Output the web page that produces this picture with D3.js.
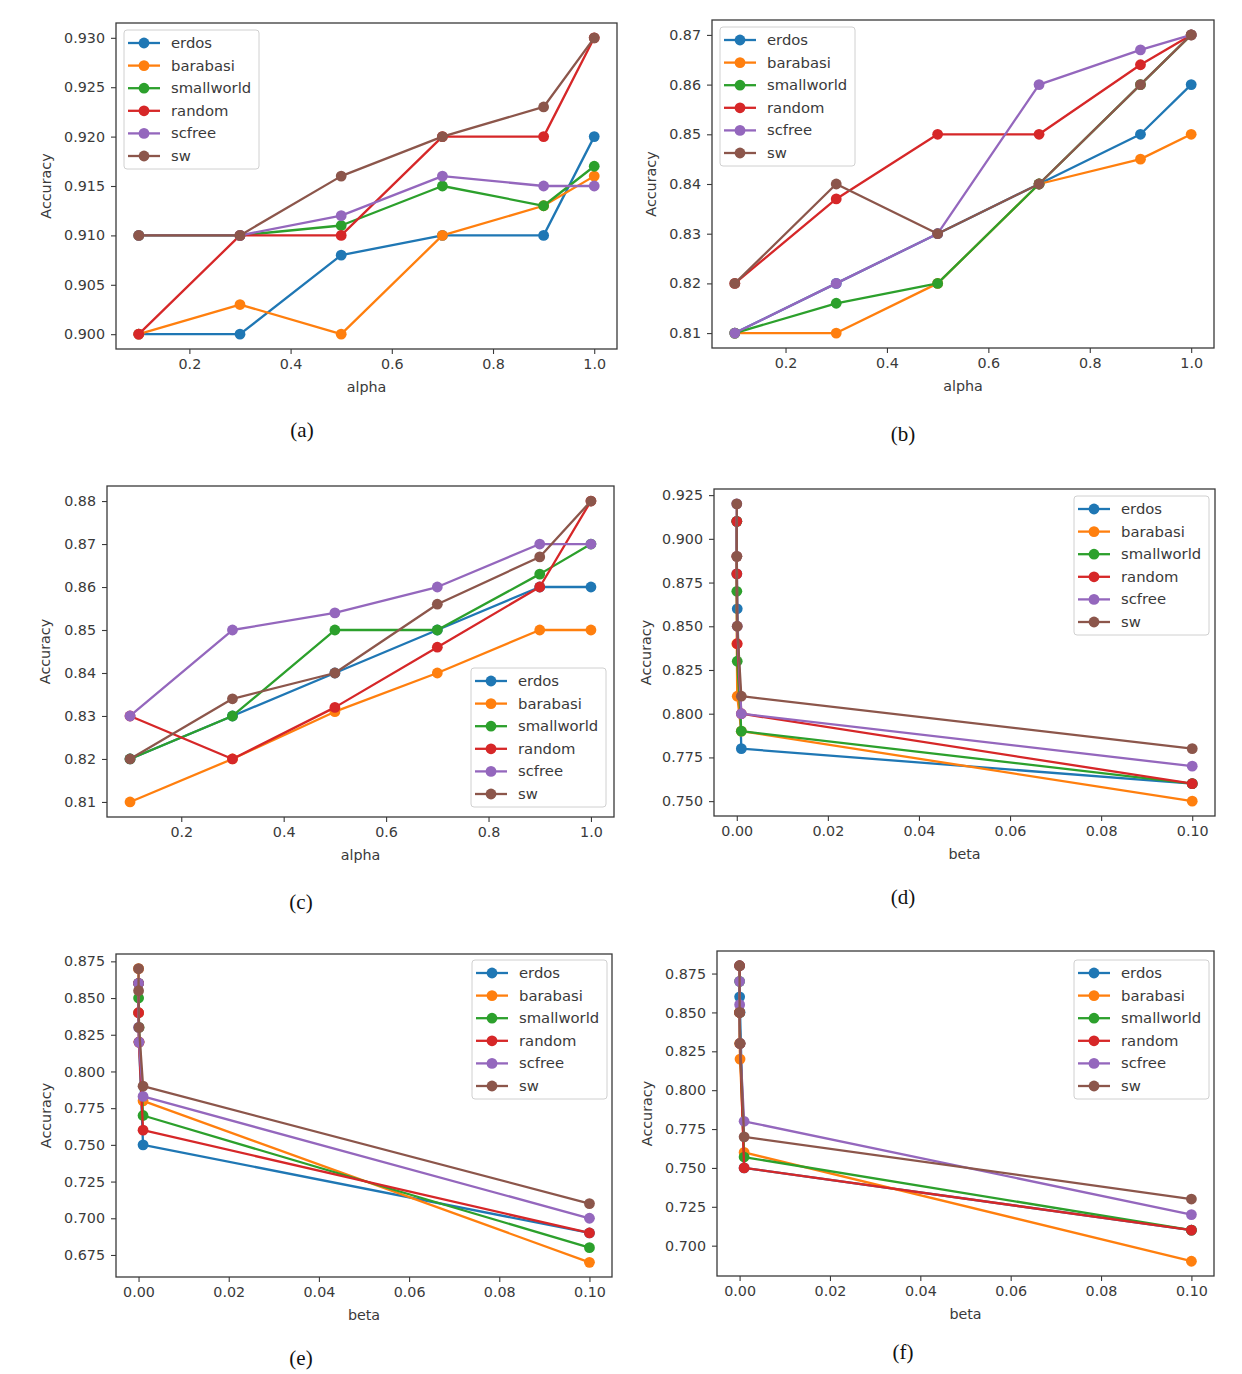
<!DOCTYPE html>
<html><head><meta charset="utf-8">
<script src="https://cdn.jsdelivr.net/npm/d3@7"></script>
<style>body{margin:0;background:#fff} svg text{font-family:"DejaVu Sans",sans-serif}</style>
</head><body><svg id="c" width="1242" height="1374"></svg>
<script>
// ---------- DATA ----------
const seriesNames = ["erdos","barabasi","smallworld","random","scfree","sw"];
const seriesColors = ["#1f77b4","#ff7f0e","#2ca02c","#d62728","#9467bd","#8c564b"];
const alphaValues = [0.1, 0.3, 0.5, 0.7, 0.9, 1.0];
const betaValues = [0, 0.00001, 0.0001, 0.001, 0.1];

// rows: erdos, barabasi, smallworld, random, scfree, sw
const accA = [
  [0.900, 0.900, 0.908, 0.910, 0.910, 0.920],
  [0.900, 0.903, 0.900, 0.910, 0.913, 0.916],
  [0.910, 0.910, 0.911, 0.915, 0.913, 0.917],
  [0.900, 0.910, 0.910, 0.920, 0.920, 0.930],
  [0.910, 0.910, 0.912, 0.916, 0.915, 0.915],
  [0.910, 0.910, 0.916, 0.920, 0.923, 0.930]
];
const accB = [
  [0.810, 0.820, 0.830, 0.840, 0.850, 0.860],
  [0.810, 0.810, 0.820, 0.840, 0.845, 0.850],
  [0.810, 0.816, 0.820, 0.840, 0.860, 0.870],
  [0.820, 0.837, 0.850, 0.850, 0.864, 0.870],
  [0.810, 0.820, 0.830, 0.860, 0.867, 0.870],
  [0.820, 0.840, 0.830, 0.840, 0.860, 0.870]
];
const accC = [
  [0.820, 0.830, 0.840, 0.850, 0.860, 0.860],
  [0.810, 0.820, 0.831, 0.840, 0.850, 0.850],
  [0.820, 0.830, 0.850, 0.850, 0.863, 0.870],
  [0.830, 0.820, 0.832, 0.846, 0.860, 0.880],
  [0.830, 0.850, 0.854, 0.860, 0.870, 0.870],
  [0.820, 0.834, 0.840, 0.856, 0.867, 0.880]
];
const accD = [
  [0.910, 0.880, 0.860, 0.780, 0.760],
  [0.890, 0.840, 0.810, 0.790, 0.750],
  [0.910, 0.870, 0.830, 0.790, 0.760],
  [0.910, 0.880, 0.840, 0.800, 0.760],
  [0.920, 0.890, 0.850, 0.800, 0.770],
  [0.920, 0.890, 0.850, 0.810, 0.780]
];
const accE = [
  [0.860, 0.840, 0.820, 0.750, 0.690],
  [0.870, 0.840, 0.820, 0.780, 0.670],
  [0.860, 0.850, 0.830, 0.770, 0.680],
  [0.860, 0.840, 0.820, 0.760, 0.690],
  [0.860, 0.830, 0.820, 0.783, 0.700],
  [0.870, 0.855, 0.830, 0.790, 0.710]
];
const accF = [
  [0.880, 0.860, 0.850, 0.750, 0.710],
  [0.850, 0.830, 0.820, 0.760, 0.690],
  [0.870, 0.850, 0.830, 0.757, 0.710],
  [0.880, 0.850, 0.830, 0.750, 0.710],
  [0.870, 0.855, 0.830, 0.780, 0.720],
  [0.880, 0.850, 0.830, 0.770, 0.730]
];

const xTicksAlpha = [0.2, 0.4, 0.6, 0.8, 1.0];
const xTicksBeta = [0.00, 0.02, 0.04, 0.06, 0.08, 0.10];
const yTicksA = [0.900, 0.905, 0.910, 0.915, 0.920, 0.925, 0.930];
const yTicksB = [0.81, 0.82, 0.83, 0.84, 0.85, 0.86, 0.87];
const yTicksC = [0.81, 0.82, 0.83, 0.84, 0.85, 0.86, 0.87, 0.88];
const yTicksD = [0.750, 0.775, 0.800, 0.825, 0.850, 0.875, 0.900, 0.925];
const yTicksE = [0.675, 0.700, 0.725, 0.750, 0.775, 0.800, 0.825, 0.850, 0.875];
const yTicksF = [0.700, 0.725, 0.750, 0.775, 0.800, 0.825, 0.850, 0.875];
const captions = ["(a)","(b)","(c)","(d)","(e)","(f)"];

// ---------- LAYOUT ----------
const panels = [
  {vals: accA, xs: alphaValues, xlab: "alpha", xTicks: xTicksAlpha, xFmt: ".1f", yTicks: yTicksA, yFmt: ".3f",
   box: [116, 23, 617, 349], legend: [124, 30], cap: [302, 437], ylabOff: 65},
  {vals: accB, xs: alphaValues, xlab: "alpha", xTicks: xTicksAlpha, xFmt: ".1f", yTicks: yTicksB, yFmt: ".2f",
   box: [712, 20, 1214, 348], legend: [720, 27], cap: [903, 441], ylabOff: 56},
  {vals: accC, xs: alphaValues, xlab: "alpha", xTicks: xTicksAlpha, xFmt: ".1f", yTicks: yTicksC, yFmt: ".2f",
   box: [107, 486, 614, 817], legend: [471, 668], cap: [301, 909], ylabOff: 57},
  {vals: accD, xs: betaValues, xlab: "beta", xTicks: xTicksBeta, xFmt: ".2f", yTicks: yTicksD, yFmt: ".3f",
   box: [714, 489, 1215, 816], legend: [1074, 496], cap: [903, 904], ylabOff: 63},
  {vals: accE, xs: betaValues, xlab: "beta", xTicks: xTicksBeta, xFmt: ".2f", yTicks: yTicksE, yFmt: ".3f",
   box: [116, 954, 612, 1277], legend: [472, 960], cap: [301, 1365], ylabOff: 65},
  {vals: accF, xs: betaValues, xlab: "beta", xTicks: xTicksBeta, xFmt: ".2f", yTicks: yTicksF, yFmt: ".3f",
   box: [717, 951, 1214, 1276], legend: [1074, 960], cap: [903, 1359], ylabOff: 65}
];

const svg = d3.select("#c");
const ink = "#3a3a3a";

function padded(ext) {
  const p = (ext[1] - ext[0]) * 0.05;
  return [ext[0] - p, ext[1] + p];
}

panels.forEach((P, pi) => {
  const [x0, y0, x1, y1] = P.box;
  const allY = P.vals.flat();
  const x = d3.scaleLinear().domain(padded(d3.extent(P.xs))).range([x0, x1]);
  const y = d3.scaleLinear().domain(padded(d3.extent(allY))).range([y1, y0]);
  const g = svg.append("g");

  // axes
  const xa = g.append("g").attr("transform", `translate(0,${y1})`)
    .call(d3.axisBottom(x).tickValues(P.xTicks).tickFormat(d3.format(P.xFmt)).tickSize(5).tickSizeOuter(0).tickPadding(5));
  const ya = g.append("g").attr("transform", `translate(${x0},0)`)
    .call(d3.axisLeft(y).tickValues(P.yTicks).tickFormat(d3.format(P.yFmt)).tickSize(5).tickSizeOuter(0).tickPadding(6));
  [xa, ya].forEach(a => {
    a.select(".domain").remove();
    a.selectAll(".tick line").attr("stroke", ink).attr("stroke-width", 1.1);
    a.selectAll(".tick text").attr("fill", ink).attr("font-size", 14.3).attr("font-family", "DejaVu Sans");
  });

  // series
  const line = d3.line().x((d, i) => x(P.xs[i])).y(d => y(d));
  P.vals.forEach((vals, si) => {
    const sg = g.append("g");
    sg.append("path").datum(vals).attr("d", line).attr("fill", "none")
      .attr("stroke", seriesColors[si]).attr("stroke-width", 2.3).attr("stroke-linejoin", "round");
    sg.selectAll("circle").data(vals).join("circle")
      .attr("cx", (d, i) => x(P.xs[i])).attr("cy", d => y(d)).attr("r", 5.4)
      .attr("fill", seriesColors[si]);
  });

  // frame
  g.append("rect").attr("x", x0).attr("y", y0).attr("width", x1 - x0).attr("height", y1 - y0)
    .attr("fill", "none").attr("stroke", ink).attr("stroke-width", 1.3);

  // axis labels
  g.append("text").attr("x", (x0 + x1) / 2).attr("y", y1 + 43).attr("text-anchor", "middle")
    .attr("font-size", 14.3).attr("fill", ink).text(P.xlab);
  g.append("text").attr("transform", `translate(${x0 - P.ylabOff},${(y0 + y1) / 2}) rotate(-90)`)
    .attr("text-anchor", "middle").attr("font-size", 14.3).attr("fill", ink).text("Accuracy");

  // legend
  const [lx, ly] = P.legend;
  const lg = g.append("g").attr("transform", `translate(${lx},${ly})`);
  lg.append("rect").attr("width", 135).attr("height", 139).attr("rx", 3)
    .attr("fill", "#fff").attr("fill-opacity", 0.85).attr("stroke", "#d0d0d0").attr("stroke-width", 1);
  seriesNames.forEach((name, si) => {
    const ry = 13 + si * 22.6;
    lg.append("line").attr("x1", 4).attr("x2", 36).attr("y1", ry).attr("y2", ry)
      .attr("stroke", seriesColors[si]).attr("stroke-width", 2.3);
    lg.append("circle").attr("cx", 20).attr("cy", ry).attr("r", 5.4).attr("fill", seriesColors[si]);
    lg.append("text").attr("x", 47).attr("y", ry + 5).attr("font-size", 14.8).attr("fill", ink).text(name);
  });

  // caption
  svg.append("text").attr("x", P.cap[0]).attr("y", P.cap[1]).attr("text-anchor", "middle")
    .style("font-family", "'Liberation Serif', serif")
    .attr("font-size", 21).attr("fill", "#111").text(captions[pi]);
});
</script></body></html>
